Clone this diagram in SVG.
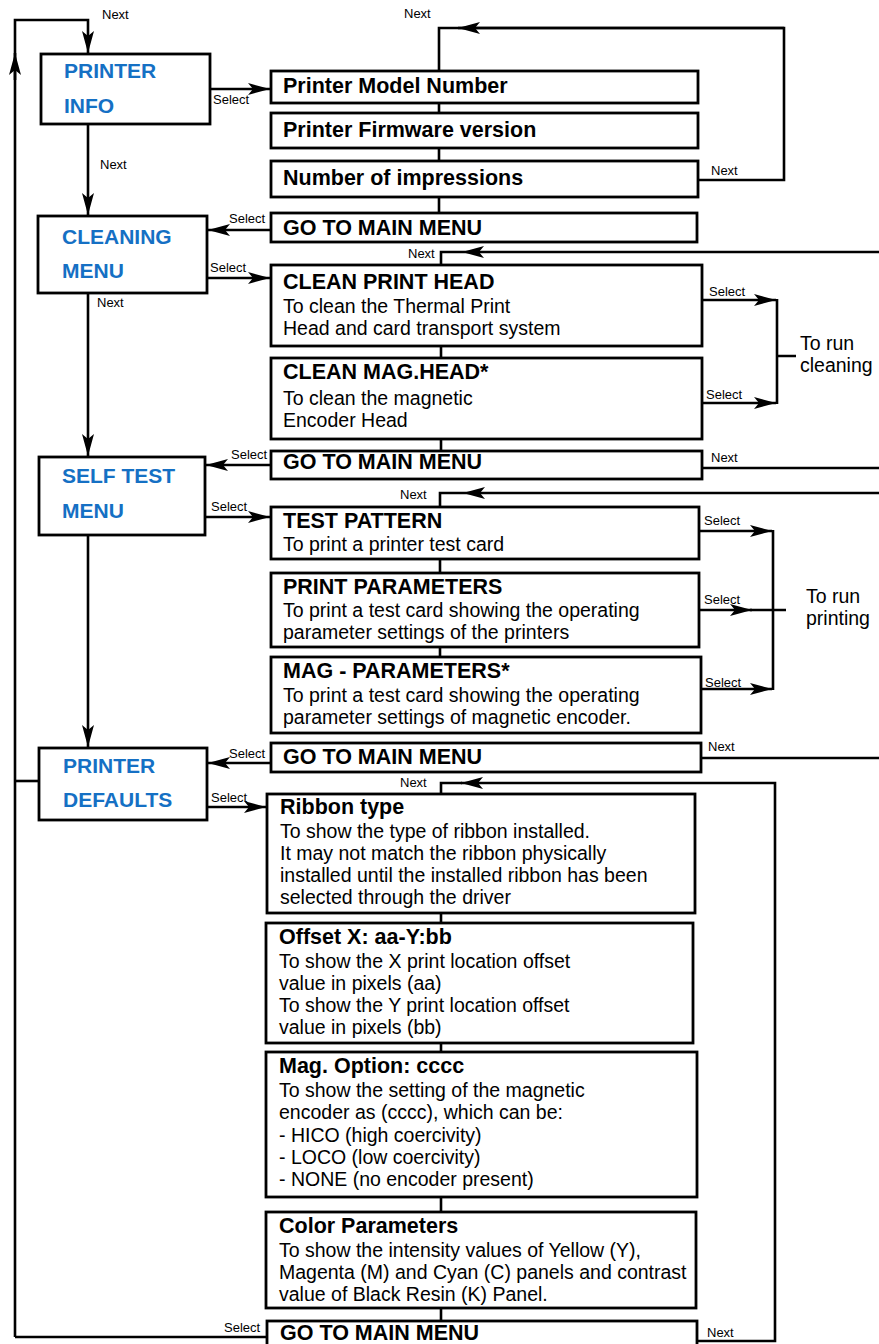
<svg xmlns="http://www.w3.org/2000/svg" width="879" height="1344" viewBox="0 0 879 1344">
<style>
  .box{fill:#fff;stroke:#000;stroke-width:2.8}
  .ln{fill:none;stroke:#000;stroke-width:2.6}
  .menu{font-family:"Liberation Sans",Arial,sans-serif;font-weight:bold;font-size:21px;fill:#1570c4}
  .t{font-family:"Liberation Sans",Arial,sans-serif;font-weight:bold;font-size:21.5px;fill:#000}
  .d{font-family:"Liberation Sans",Arial,sans-serif;font-size:19.5px;fill:#000}
  .s{font-family:"Liberation Sans",Arial,sans-serif;font-size:13px;fill:#000}
  .r{font-family:"Liberation Sans",Arial,sans-serif;font-size:19.5px;fill:#000}
</style>
<defs>
  <marker id="ah" markerUnits="userSpaceOnUse" markerWidth="24" markerHeight="14" refX="22" refY="7" orient="auto">
    <path d="M0,1 L22,7 L0,13 L5,7 Z" fill="#000"/>
  </marker>
</defs>
<rect width="879" height="1344" fill="#fff"/>

<g id="connectors">
  <path class="ln" d="M15,1337 V20 H88 V53" marker-end="url(#ah)"/>
  <path class="ln" d="M15,80 V53" marker-end="url(#ah)"/>
  <path class="ln" d="M15,781 H39"/>
  <path class="ln" d="M267,1337 H15"/>
  <path class="ln" d="M88,124 V215" marker-end="url(#ah)"/>
  <path class="ln" d="M88,293 V456" marker-end="url(#ah)"/>
  <path class="ln" d="M88,535 V747" marker-end="url(#ah)"/>
  <path class="ln" d="M210,89 H270" marker-end="url(#ah)"/>
  <path class="ln" d="M271,230 H208" marker-end="url(#ah)"/>
  <path class="ln" d="M207,278 H270" marker-end="url(#ah)"/>
  <path class="ln" d="M271,465 H206" marker-end="url(#ah)"/>
  <path class="ln" d="M205,517 H270" marker-end="url(#ah)"/>
  <path class="ln" d="M271,763 H208" marker-end="url(#ah)"/>
  <path class="ln" d="M207,807 H266" marker-end="url(#ah)"/>
  <path class="ln" d="M439,71 V28 H784 V180 H698"/>
  <path class="ln" d="M784,28 H458" marker-end="url(#ah)"/>
  <path class="ln" d="M439,103 V113 M439,149 V161 M439,197 V213"/>
  <path class="ln" d="M879,252 H462" marker-end="url(#ah)"/>
  <path class="ln" d="M462,252 H441 V265"/>
  <path class="ln" d="M441,346 V358 M441,439 V451"/>
  <path class="ln" d="M702,300 H776" marker-end="url(#ah)"/>
  <path class="ln" d="M702,403 H776" marker-end="url(#ah)"/>
  <path class="ln" d="M777,299 V404 M777,356 H796"/>
  <path class="ln" d="M702,468 H879"/>
  <path class="ln" d="M879,493 H463" marker-end="url(#ah)"/>
  <path class="ln" d="M463,493 H440 V507"/>
  <path class="ln" d="M440,559 V573 M440,647 V657"/>
  <path class="ln" d="M699,531 H772" marker-end="url(#ah)"/>
  <path class="ln" d="M699,610 H752" marker-end="url(#ah)"/>
  <path class="ln" d="M750,610 H786"/>
  <path class="ln" d="M701,689 H772" marker-end="url(#ah)"/>
  <path class="ln" d="M773,530 V690"/>
  <path class="ln" d="M701,758 H879"/>
  <path class="ln" d="M697,1341 H775 V783 H461" marker-end="url(#ah)"/>
  <path class="ln" d="M462,783 H441 V794"/>
  <path class="ln" d="M441,913 V923 M441,1043 V1052 M441,1197 V1212 M441,1308 V1321"/>

  <g class="s">
    <text x="102" y="19">Next</text>
    <text x="213" y="104">Select</text>
    <text x="100" y="169">Next</text>
    <text x="229" y="223">Select</text>
    <text x="210" y="272">Select</text>
    <text x="97" y="307">Next</text>
    <text x="231" y="459">Select</text>
    <text x="211" y="511">Select</text>
    <text x="229" y="758">Select</text>
    <text x="211" y="802">Select</text>
    <text x="224" y="1332">Select</text>
    <text x="404" y="18">Next</text>
    <text x="711" y="175">Next</text>
    <text x="408" y="258">Next</text>
    <text x="709" y="296">Select</text>
    <text x="706" y="399">Select</text>
    <text x="711" y="462">Next</text>
    <text x="400" y="499">Next</text>
    <text x="704" y="525">Select</text>
    <text x="704" y="604">Select</text>
    <text x="705" y="687">Select</text>
    <text x="708" y="751">Next</text>
    <text x="400" y="787">Next</text>
    <text x="707" y="1337">Next</text>
  </g>
  <text class="r" x="800" y="350">To run</text>
  <text class="r" x="800" y="372">cleaning</text>
  <text class="r" x="806" y="603">To run</text>
  <text class="r" x="806" y="625">printing</text>
</g>

<g id="printer-info">
  <rect class="box" x="41" y="54" width="169" height="70"/>
  <text class="menu" x="64" y="78">PRINTER</text>
  <text class="menu" x="64" y="113">INFO</text>
</g>
<g id="cleaning-menu">
  <rect class="box" x="38" y="216" width="169" height="77"/>
  <text class="menu" x="62" y="244">CLEANING</text>
  <text class="menu" x="62" y="278">MENU</text>
</g>
<g id="self-test-menu">
  <rect class="box" x="39" y="457" width="166" height="78"/>
  <text class="menu" x="62" y="483">SELF TEST</text>
  <text class="menu" x="62" y="518">MENU</text>
</g>
<g id="printer-defaults">
  <rect class="box" x="39" y="748" width="168" height="72"/>
  <text class="menu" x="63" y="773">PRINTER</text>
  <text class="menu" x="63" y="807">DEFAULTS</text>
</g>

<g id="model-number">
  <rect class="box" x="271" y="71" width="427" height="32"/>
  <text class="t" x="283" y="93">Printer Model Number</text>
</g>
<g id="firmware">
  <rect class="box" x="271" y="113" width="427" height="35"/>
  <text class="t" x="283" y="137">Printer Firmware version</text>
</g>
<g id="impressions">
  <rect class="box" x="271" y="161" width="427" height="36"/>
  <text class="t" x="283" y="185">Number of impressions</text>
</g>
<g id="goto-main-1">
  <rect class="box" x="271" y="213" width="426" height="29"/>
  <text class="t" x="283" y="235">GO TO MAIN MENU</text>
</g>
<g id="clean-print-head">
  <rect class="box" x="271" y="265" width="431" height="81"/>
  <text class="t" x="283" y="289">CLEAN PRINT HEAD</text>
  <text class="d" x="283" y="313">To clean the Thermal Print</text>
  <text class="d" x="283" y="335">Head and card transport system</text>
</g>
<g id="clean-mag-head">
  <rect class="box" x="271" y="358" width="431" height="81"/>
  <text class="t" x="283" y="379">CLEAN MAG.HEAD*</text>
  <text class="d" x="283" y="405">To clean the magnetic</text>
  <text class="d" x="283" y="427">Encoder Head</text>
</g>
<g id="goto-main-2">
  <rect class="box" x="271" y="451" width="431" height="28"/>
  <text class="t" x="283" y="469">GO TO MAIN MENU</text>
</g>
<g id="test-pattern">
  <rect class="box" x="271" y="507" width="428" height="52"/>
  <text class="t" x="283" y="528">TEST PATTERN</text>
  <text class="d" x="283" y="551">To print a printer test card</text>
</g>
<g id="print-parameters">
  <rect class="box" x="271" y="573" width="428" height="74"/>
  <text class="t" x="283" y="594">PRINT PARAMETERS</text>
  <text class="d" x="283" y="617">To print a test card showing the operating</text>
  <text class="d" x="283" y="639">parameter settings of the printers</text>
</g>
<g id="mag-parameters">
  <rect class="box" x="271" y="657" width="430" height="76"/>
  <text class="t" x="283" y="678">MAG - PARAMETERS*</text>
  <text class="d" x="283" y="702">To print a test card showing the operating</text>
  <text class="d" x="283" y="724">parameter settings of magnetic encoder.</text>
</g>
<g id="goto-main-3">
  <rect class="box" x="271" y="743" width="430" height="29"/>
  <text class="t" x="283" y="764">GO TO MAIN MENU</text>
</g>
<g id="ribbon-type">
  <rect class="box" x="267" y="794" width="428" height="119"/>
  <text class="t" x="280" y="814">Ribbon type</text>
  <text class="d" x="280" y="838">To show the type of ribbon installed.</text>
  <text class="d" x="280" y="860">It may not match the ribbon physically</text>
  <text class="d" x="280" y="882">installed until the installed ribbon has been</text>
  <text class="d" x="280" y="904">selected through the driver</text>
</g>
<g id="offset">
  <rect class="box" x="266" y="923" width="427" height="120"/>
  <text class="t" x="279" y="944">Offset X: aa-Y:bb</text>
  <text class="d" x="279" y="968">To show the X print location offset</text>
  <text class="d" x="279" y="990">value in pixels (aa)</text>
  <text class="d" x="279" y="1012">To show the Y print location offset</text>
  <text class="d" x="279" y="1034">value in pixels (bb)</text>
</g>
<g id="mag-option">
  <rect class="box" x="266" y="1052" width="431" height="145"/>
  <text class="t" x="279" y="1073">Mag. Option: cccc</text>
  <text class="d" x="279" y="1097">To show the setting of the magnetic</text>
  <text class="d" x="279" y="1119">encoder as (cccc), which can be:</text>
  <text class="d" x="279" y="1142">- HICO (high coercivity)</text>
  <text class="d" x="279" y="1164">- LOCO (low coercivity)</text>
  <text class="d" x="279" y="1186">- NONE (no encoder present)</text>
</g>
<g id="color-parameters">
  <rect class="box" x="266" y="1212" width="430" height="96"/>
  <text class="t" x="279" y="1233">Color Parameters</text>
  <text class="d" x="279" y="1257">To show the intensity values of Yellow (Y),</text>
  <text class="d" x="279" y="1279">Magenta (M) and Cyan (C) panels and contrast</text>
  <text class="d" x="279" y="1301">value of Black Resin (K) Panel.</text>
</g>
<g id="goto-main-4">
  <rect class="box" x="267" y="1321" width="430" height="32"/>
  <text class="t" x="280" y="1340">GO TO MAIN MENU</text>
</g>
</svg>
